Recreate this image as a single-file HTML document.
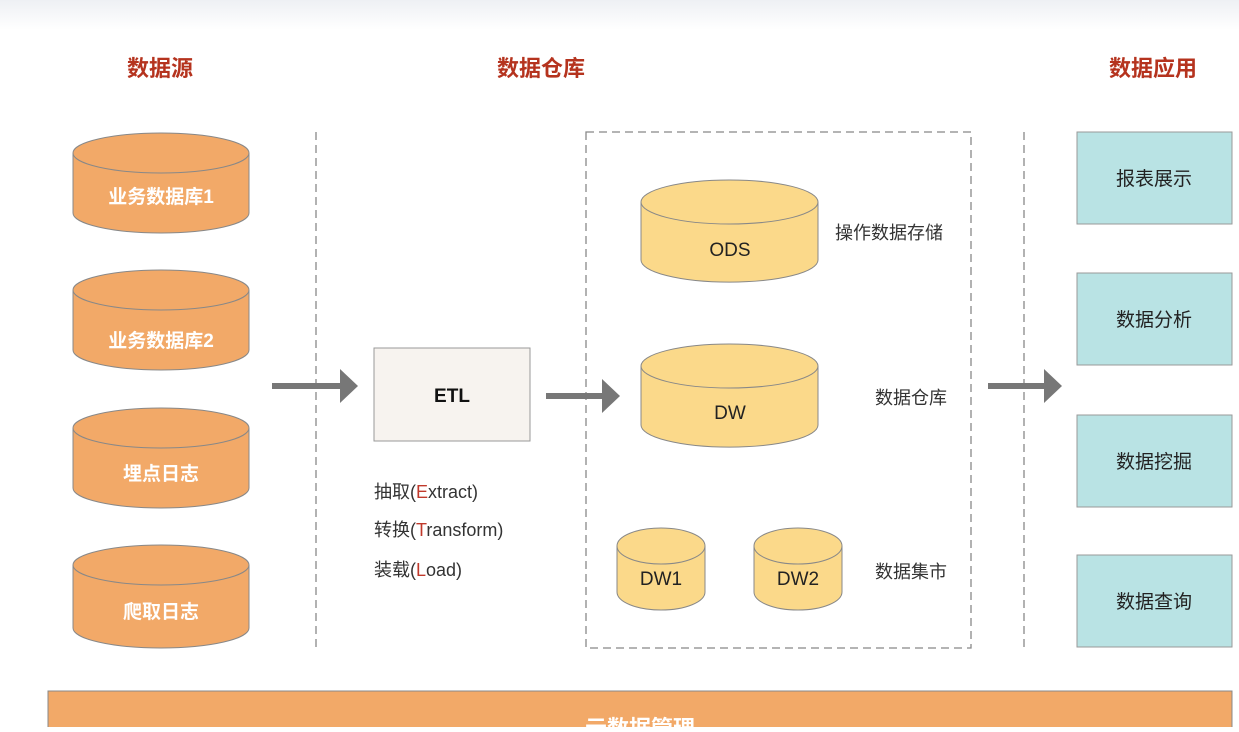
<!DOCTYPE html>
<html><head><meta charset="utf-8"><style>
body{margin:0;width:1239px;height:727px;overflow:hidden;background:#fff;font-family:"Liberation Sans","Noto Sans CJK SC",sans-serif;}
</style></head><body>
<svg width="1239" height="727" xmlns="http://www.w3.org/2000/svg" font-family="Liberation Sans, Noto Sans CJK SC, sans-serif">
<defs><linearGradient id="g" x1="0" y1="0" x2="0" y2="1"><stop offset="0" stop-color="#eef0f4"/><stop offset="1" stop-color="#fff"/></linearGradient></defs>
<rect x="0" y="0" width="1239" height="30" fill="url(#g)"/>
<g font-size="22" font-weight="bold" fill="#b5331e" text-anchor="middle">
<text x="160" y="76">数据源</text><text x="541" y="76">数据仓库</text><text x="1153" y="76">数据应用</text>
</g>
<g stroke="#888" stroke-width="1.3" stroke-dasharray="8,5" fill="none">
<line x1="316" y1="132" x2="316" y2="648"/><line x1="1024" y1="132" x2="1024" y2="648"/>
<rect x="586" y="132" width="385" height="516"/>
</g>
<g stroke="#888" stroke-width="1" fill="#f2a968">
<path d="M73 153 V213 A88 20 0 0 0 249 213 V153"/><ellipse cx="161" cy="153" rx="88" ry="20"/>
<path d="M73 290 V350 A88 20 0 0 0 249 350 V290"/><ellipse cx="161" cy="290" rx="88" ry="20"/>
<path d="M73 428 V488 A88 20 0 0 0 249 488 V428"/><ellipse cx="161" cy="428" rx="88" ry="20"/>
<path d="M73 565 V628 A88 20 0 0 0 249 628 V565"/><ellipse cx="161" cy="565" rx="88" ry="20"/>
</g>
<g font-size="19" font-weight="bold" fill="#fff" text-anchor="middle">
<text x="161" y="203">业务数据库1</text><text x="161" y="347">业务数据库2</text><text x="161" y="480">埋点日志</text><text x="161" y="618">爬取日志</text>
</g>
<g stroke="#888" stroke-width="1" fill="#fbd98a">
<path d="M641 202 V260 A88 22 0 0 0 818 260 V202"/><ellipse cx="729.5" cy="202" rx="88.5" ry="22"/>
<path d="M641 366 V425 A88 22 0 0 0 818 425 V366"/><ellipse cx="729.5" cy="366" rx="88.5" ry="22"/>
<path d="M617 546 V592 A44 18 0 0 0 705 592 V546"/><ellipse cx="661" cy="546" rx="44" ry="18"/>
<path d="M754 546 V592 A44 18 0 0 0 842 592 V546"/><ellipse cx="798" cy="546" rx="44" ry="18"/>
</g>
<g font-size="19" fill="#222" text-anchor="middle">
<text x="730" y="256">ODS</text><text x="730" y="419">DW</text><text x="661" y="585">DW1</text><text x="798" y="585">DW2</text>
</g>
<g font-size="18" fill="#333">
<text x="835" y="239">操作数据存储</text><text x="875" y="404">数据仓库</text><text x="875" y="578">数据集市</text>
</g>
<rect x="374" y="348" width="156" height="93" fill="#f7f3ef" stroke="#999"/>
<text x="452" y="402" font-size="19" font-weight="bold" text-anchor="middle" fill="#111">ETL</text>
<g font-size="18" fill="#333">
<text x="374" y="498">抽取(<tspan fill="#c0392b">E</tspan>xtract)</text>
<text x="374" y="536">转换(<tspan fill="#c0392b">T</tspan>ransform)</text>
<text x="374" y="576">装载(<tspan fill="#c0392b">L</tspan>oad)</text>
</g>
<g fill="#b9e3e4" stroke="#999">
<rect x="1077" y="132" width="155" height="92"/><rect x="1077" y="273" width="155" height="92"/>
<rect x="1077" y="415" width="155" height="92"/><rect x="1077" y="555" width="155" height="92"/>
</g>
<g font-size="19" fill="#222" text-anchor="middle">
<text x="1154" y="185">报表展示</text><text x="1154" y="326">数据分析</text><text x="1154" y="468">数据挖掘</text><text x="1154" y="608">数据查询</text>
</g>
<g fill="#777">
<rect x="272" y="383" width="68" height="6"/><polygon points="340,369 358,386 340,403"/>
<rect x="546" y="393" width="56" height="6"/><polygon points="602,379 620,396 602,413"/>
<rect x="988" y="383" width="56" height="6"/><polygon points="1044,369 1062,386 1044,403"/>
</g>
<rect x="48" y="691" width="1184" height="40" fill="#f2a968" stroke="#888"/>
<text x="640" y="736" font-size="22" font-weight="bold" fill="#fff" text-anchor="middle">元数据管理</text>
</svg>
</body></html>
